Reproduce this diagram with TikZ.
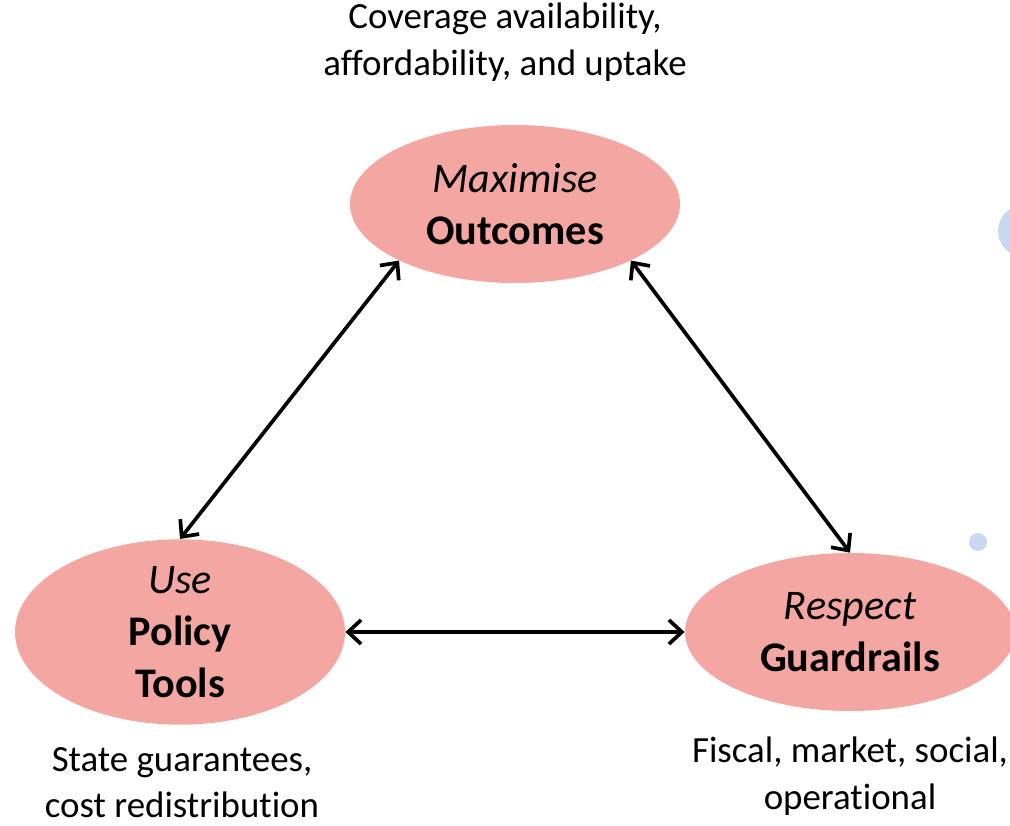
\documentclass[tikz,border=0pt]{standalone}
\usepackage{fontspec}
\setmainfont{Carlito}[Ligatures=NoCommon]
\usetikzlibrary{arrows.meta, positioning, shapes.geometric}
\definecolor{tgpink}{HTML}{F4A7A2}
\definecolor{tgblue}{HTML}{C8D9EF}

\begin{document}
\begin{tikzpicture}[
  goalnode/.style={ellipse, fill=tgpink, minimum width=6.6cm, minimum height=3.16cm, inner sep=0pt, align=center, font=\fontsize{24}{29.5}\selectfont},
  notenode/.style={align=center, font=\fontsize{21}{26.5}\selectfont},
  link/.style={{Straight Barb[length=0.26cm, width=0.48cm]}-{Straight Barb[length=0.26cm, width=0.48cm]}, line width=2.1pt},
]
\useasboundingbox (0,0) rectangle (20.2,16.5);

% decoration dots on the right edge
\fill[tgblue] (20.48,11.88) circle (0.52);
\fill[tgblue] (19.56,5.66) circle (0.18);

% the three goals
\node[goalnode] (outcomes) at (10.3,12.42) {\textit{Maximise}\\\textbf{Outcomes}};
\node[goalnode] (tools) at (3.6,3.86) {\textit{Use}\\\textbf{Policy}\\\textbf{Tools}};
\node[goalnode] (guardrails) at (17.0,3.86) {\textit{Respect}\\\textbf{Guardrails}};

% notes
\node[notenode] (outnote) at (10.1,15.66) {Coverage availability,\\affordability, and uptake};
\node[notenode] (toolnote) at (3.64,0.85) {State guarantees,\\cost redistribution};
\node[notenode] (guardnote) at (17.0,0.98) {Fiscal, market, social,\\operational};

% links
\draw[link] (outcomes.206) -- (tools.north);
\draw[link] (outcomes.334) -- (guardrails.north);
\draw[link] (tools.east) -- (guardrails.west);

\end{tikzpicture}
\end{document}
